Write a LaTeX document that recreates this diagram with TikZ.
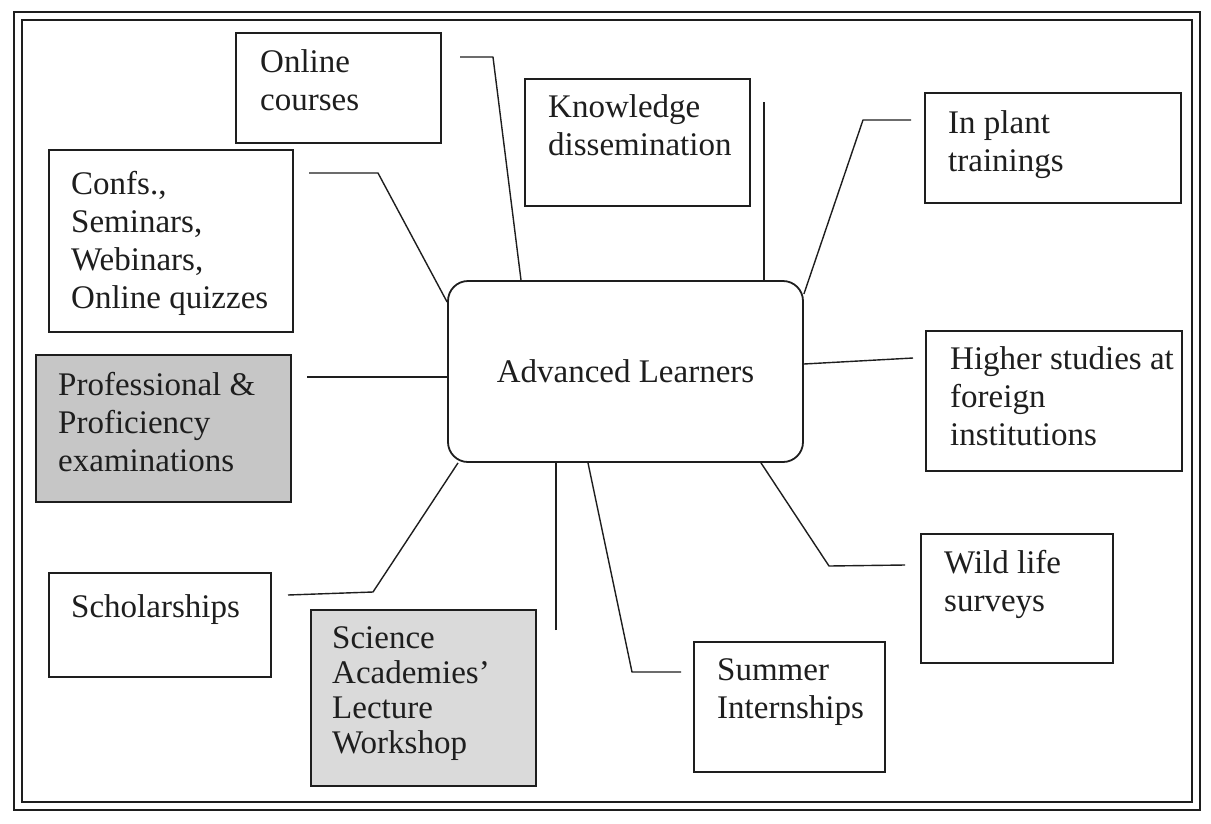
\documentclass[tikz,border=0pt]{standalone}
\usepackage{fontspec}
\setmainfont{Liberation Serif}
\usetikzlibrary{calc}
\definecolor{ink}{HTML}{1E1E1E}
\definecolor{profgrey}{HTML}{C6C6C6}
\definecolor{scigrey}{HTML}{DADADA}
\begin{document}
\begin{tikzpicture}[x=1pt,y=-1pt,
  box/.style={draw=ink, line width=1.8pt, anchor=north west, inner sep=0pt, fill=white},
  lbl/.style={anchor=north west, inner sep=0pt, align=left, text=ink,
              font=\fontsize{33}{38}\selectfont},
  link/.style={draw=ink, line width=1.4pt, line join=round}]
\useasboundingbox[fill=white] (0,0) rectangle (1211,823);
% frame
\draw[ink, line width=2.6pt] (14,12) rectangle (1200,810);
\draw[ink, line width=1.1pt] (22,20) rectangle (1192,802);
% central node
\node[draw=ink, line width=1.8pt, rounded corners=20pt, minimum width=355pt,
      minimum height=181pt, fill=white, text=ink, inner sep=0pt,
      font=\fontsize{33}{38}\selectfont] (al) at (625.5,371.5) {Advanced Learners};
% boxes
\node[box, minimum width=205pt, minimum height=110pt] (online) at (235,32) {};
\node[box, minimum width=225pt, minimum height=127pt] (know) at (524,78) {};
\node[box, minimum width=256pt, minimum height=110pt] (plant) at (924,92) {};
\node[box, minimum width=244pt, minimum height=182pt] (confs) at (48,149) {};
\node[box, minimum width=255pt, minimum height=147pt, fill=profgrey] (prof) at (35,354) {};
\node[box, minimum width=256pt, minimum height=140pt] (higher) at (925,330) {};
\node[box, minimum width=192pt, minimum height=129pt] (wild) at (920,533) {};
\node[box, minimum width=191pt, minimum height=130pt] (summer) at (693,641) {};
\node[box, minimum width=225pt, minimum height=176pt, fill=scigrey] (science) at (310,609) {};
\node[box, minimum width=222pt, minimum height=104pt] (schol) at (48,572) {};
% labels
\node[lbl] (tonline) at (260,46) {\strut Online\\courses};
\node[lbl] (tknow) at (548,91) {\strut Knowledge\\dissemination};
\node[lbl] (tplant) at (948,107) {\strut In plant\\trainings};
\node[lbl] (tconfs) at (71,168) {\strut Confs.,\\Seminars,\\Webinars,\\Online quizzes};
\node[lbl] (tprof) at (58,369) {\strut Professional \&\\Proficiency\\examinations};
\node[lbl] (thigher) at (950,343) {\strut Higher studies at\\foreign\\institutions};
\node[lbl] (twild) at (944,547) {\strut Wild life\\surveys};
\node[lbl] (tsummer) at (717,654) {\strut Summer\\Internships};
\node[lbl, font=\fontsize{33}{35}\selectfont] (tscience) at (332,624) {\strut Science\\Academies'\\Lecture\\Workshop};
\node[lbl] (tschol) at (71,591) {\strut Scholarships};
% connector free ends
\coordinate (e1) at (460,57);
\coordinate (e2) at (309,173);
\coordinate (e3) at (307,377);
\coordinate (e4) at (288,595);
\coordinate (e5) at (556,630);
\coordinate (e6) at (681,672);
\coordinate (e7) at (905,565);
\coordinate (e8) at (913,358);
\coordinate (e9) at (911,120);
\coordinate (e10) at (764,102);
% connectors
\draw[link] (e1) -- (493,57) -- (al.north -| 521,0);
\draw[link] (e2) -- (378,173) -- (al.west |- 0,302);
\draw[link] (e3) -- (al.west |- 0,377);
\draw[link] (e4) -- (373,592) -- (al.south -| 458,0);
\draw[link] (e5) -- (al.south -| 556,0);
\draw[link] (e6) -- (632,672) -- (al.south -| 588,0);
\draw[link] (e7) -- (829,566) -- (al.south -| 761,0);
\draw[link] (e8) -- (al.east |- 0,364);
\draw[link] (e9) -- (863,120) -- (al.east |- 0,294);
\draw[link] (e10) -- (al.north -| 764,0);
\end{tikzpicture}
\end{document}
